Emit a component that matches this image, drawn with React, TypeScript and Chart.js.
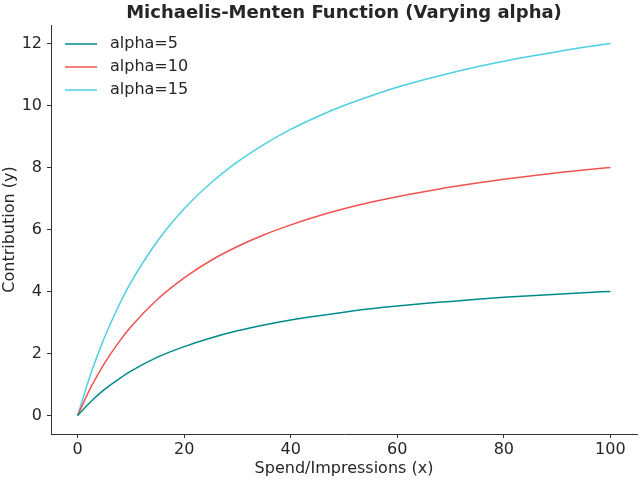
import React, { useEffect, useRef } from 'react';
import { Chart, registerables } from 'chart.js';

Chart.register(...registerables);

// values at these spend levels
const spend = [0, 2.5, 5, 7.5, 10, 15, 20, 25, 30, 35, 40, 45, 50, 55, 60, 65, 70, 75, 80, 85, 90, 95, 100];
const alpha5 = [0, 0.45, 0.83, 1.15, 1.43, 1.88, 2.22, 2.5, 2.73, 2.92, 3.08, 3.21, 3.33, 3.44, 3.53, 3.61, 3.68, 3.75, 3.81, 3.86, 3.91, 3.96, 4.0];
const alpha10 = [0, 0.91, 1.67, 2.31, 2.86, 3.75, 4.44, 5.0, 5.45, 5.83, 6.15, 6.43, 6.67, 6.88, 7.06, 7.22, 7.37, 7.5, 7.62, 7.73, 7.83, 7.92, 8.0];
const alpha15 = [0, 1.36, 2.5, 3.46, 4.29, 5.63, 6.67, 7.5, 8.18, 8.75, 9.23, 9.64, 10.0, 10.31, 10.59, 10.83, 11.05, 11.25, 11.43, 11.59, 11.74, 11.88, 12.0];
const seriesLabels = ['alpha=5', 'alpha=10', 'alpha=15'];
const seriesColors = ['#008b8b', '#ef5350', '#4dd0e1'];
const xTicks = [0, 20, 40, 60, 80, 100];
const yTicks = [0, 2, 4, 6, 8, 10, 12];

const FONT = '"DejaVu Sans", sans-serif';
const TEXT = '#262626';

// title centred over the plot + legend inside the axes, matplotlib-style
const overlayPlugin = {
  id: 'overlay',
  afterDraw(chart: Chart) {
    const { ctx, chartArea } = chart;
    ctx.save();
    ctx.fillStyle = TEXT;
    ctx.font = `bold 18px ${FONT}`;
    ctx.textAlign = 'center';
    ctx.textBaseline = 'alphabetic';
    ctx.fillText('Michaelis-Menten Function (Varying alpha)', (chartArea.left + chartArea.right) / 2, 18);

    ctx.font = `16px ${FONT}`;
    ctx.textAlign = 'left';
    ctx.textBaseline = 'middle';
    seriesLabels.forEach((label, i) => {
      const y = 44 + i * 23;
      ctx.strokeStyle = seriesColors[i];
      ctx.lineWidth = 1.5;
      ctx.beginPath();
      ctx.moveTo(65, y);
      ctx.lineTo(97, y);
      ctx.stroke();
      ctx.fillText(label, 110, y);
    });
    ctx.restore();
  },
};

export default function App() {
  const canvasRef = useRef<HTMLCanvasElement>(null);

  useEffect(() => {
    if (!canvasRef.current) return;
    const seriesValues = [alpha5, alpha10, alpha15];

    const chart = new Chart(canvasRef.current, {
      type: 'line',
      data: {
        datasets: seriesValues.map((vals, i) => ({
          label: seriesLabels[i],
          data: spend.map((x, j) => ({ x, y: vals[j] })),
          borderColor: seriesColors[i],
          borderWidth: 1.5,
          pointRadius: 0,
          cubicInterpolationMode: 'monotone' as const,
        })),
      },
      options: {
        animation: false,
        responsive: true,
        maintainAspectRatio: false,
        layout: { padding: { top: 25, right: 3, left: 0, bottom: 0 } },
        plugins: {
          legend: { display: false },
          title: { display: false },
          tooltip: { enabled: false },
        },
        scales: {
          x: {
            type: 'linear',
            min: -5,
            max: 105,
            afterBuildTicks: (scale: any) => {
              scale.ticks = xTicks.map((v) => ({ value: v }));
            },
            afterFit: (scale: any) => {
              scale.height = 46;
            },
            grid: { display: true, drawOnChartArea: false, drawTicks: true, tickLength: 4, color: '#333' },
            border: { display: true, color: '#333', width: 1 },
            ticks: { color: TEXT, font: { family: FONT, size: 16 }, padding: 2, maxRotation: 0 },
            title: {
              display: true,
              text: 'Spend/Impressions (x)',
              color: TEXT,
              font: { family: FONT, size: 16 },
              padding: { top: 0, bottom: 2 },
            },
          },
          y: {
            type: 'linear',
            min: -0.6,
            max: 12.6,
            afterBuildTicks: (scale: any) => {
              scale.ticks = yTicks.map((v) => ({ value: v }));
            },
            afterFit: (scale: any) => {
              scale.width = 51;
            },
            grid: { display: true, drawOnChartArea: false, drawTicks: true, tickLength: 4, color: '#333' },
            border: { display: true, color: '#333', width: 1 },
            ticks: { color: TEXT, font: { family: FONT, size: 16 }, padding: 5 },
            title: {
              display: true,
              text: 'Contribution (y)',
              color: TEXT,
              font: { family: FONT, size: 16 },
              padding: { top: 0, bottom: 0 },
            },
          },
        },
      },
      plugins: [overlayPlugin],
    });

    return () => chart.destroy();
  }, []);

  return (
    <div style={{ position: 'absolute', left: 0, top: 0, width: 640, height: 480, background: '#fff' }}>
      <canvas ref={canvasRef}></canvas>
    </div>
  );
}
